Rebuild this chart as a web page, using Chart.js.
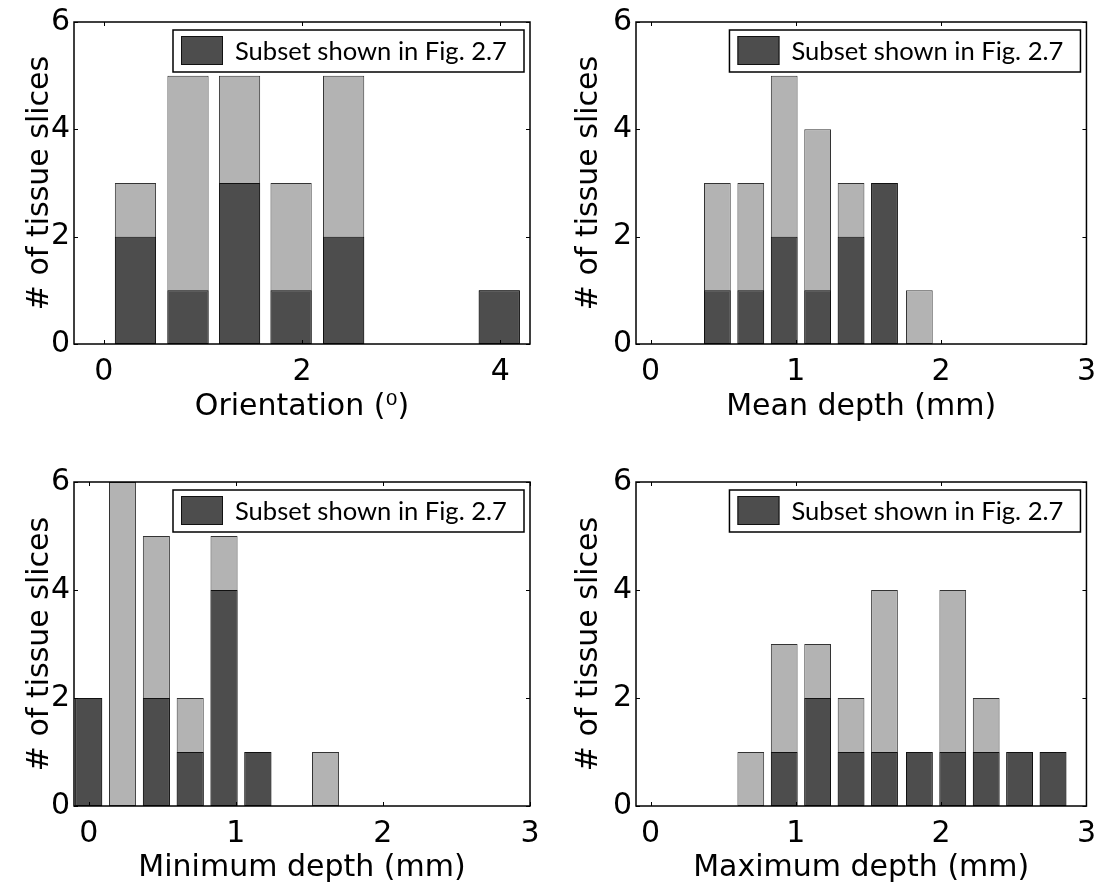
<!DOCTYPE html>
<html>
<head>
<meta charset="utf-8">
<script src="https://cdn.jsdelivr.net/npm/chart.js@4.4.1/dist/chart.umd.min.js"></script>
<style>
  html, body { margin: 0; padding: 0; background: #fff; }
  #page { position: relative; width: 1106px; height: 891px; overflow: hidden; background: #fff; }
  #page canvas { position: absolute; }
</style>
</head>
<body>
<div id="page">
  <canvas id="orientationChart" width="553" height="445" style="left:0px;top:0px"></canvas>
  <canvas id="meanDepthChart" width="553" height="445" style="left:553px;top:0px"></canvas>
  <canvas id="minDepthChart" width="553" height="446" style="left:0px;top:445px"></canvas>
  <canvas id="maxDepthChart" width="553" height="446" style="left:553px;top:445px"></canvas>
</div>
<script>
// ===================================
// histogram values
// ===================================
const orientationBins = [0.32, 0.85, 1.37, 1.89, 2.42, 2.94, 3.46, 3.99];
const orientationAll = [3, 5, 5, 3, 5, 0, 0, 1];
const orientationSubset = [2, 1, 3, 1, 2, 0, 0, 1];

const depthBins = [0, 0.23, 0.46, 0.69, 0.92, 1.15, 1.38, 1.61, 1.85, 2.08, 2.31, 2.54, 2.77];
const meanDepthAll = [0, 0, 3, 3, 5, 4, 3, 3, 1, 0, 0, 0, 0];
const meanDepthSubset = [0, 0, 1, 1, 2, 1, 2, 3, 0, 0, 0, 0, 0];
const minDepthAll = [2, 6, 5, 2, 5, 1, 0, 1, 0, 0, 0, 0, 0];
const minDepthSubset = [2, 0, 2, 1, 4, 1, 0, 0, 0, 0, 0, 0, 0];
const maxDepthAll = [0, 0, 0, 1, 3, 3, 2, 4, 1, 4, 2, 1, 1];
const maxDepthSubset = [0, 0, 0, 0, 1, 2, 1, 1, 1, 1, 1, 1, 1];

const orientationTicks = [0, 2, 4];
const depthTicks = [0, 1, 2, 3];
const countTicks = [0, 2, 4, 6];

const subsetLabel = 'Subset shown in Fig. 2.7';
const yTitle = '# of tissue slices';

const darkGray = '#4d4d4d';
const lightGray = '#b3b3b3';
const axisFont = 'DejaVu Sans';

// Draws the MATLAB-like box, inward tick marks and the legend inside the axes
const matlabFrame = {
    id: 'matlabFrame',
    afterDatasetsDraw(chart) {
        const { ctx, chartArea: a, scales } = chart;
        const x = scales.x, y = scales.y;
        ctx.save();

        ctx.strokeStyle = '#000';
        ctx.lineWidth = 1;
        ctx.beginPath();
        x.ticks.forEach(t => {
            const px = Math.round(x.getPixelForValue(t.value)) + 0.5;
            ctx.moveTo(px, a.bottom); ctx.lineTo(px, a.bottom - 4);
            ctx.moveTo(px, a.top); ctx.lineTo(px, a.top + 4);
        });
        y.ticks.forEach(t => {
            const py = Math.round(y.getPixelForValue(t.value)) + 0.5;
            ctx.moveTo(a.left, py); ctx.lineTo(a.left + 4, py);
            ctx.moveTo(a.right, py); ctx.lineTo(a.right - 4, py);
        });
        ctx.stroke();

        ctx.lineWidth = 1.5;
        ctx.strokeRect(a.left, a.top, a.right - a.left, a.bottom - a.top);

        // legend box
        const ds = chart.data.datasets[0];
        const bw = 351, bh = 42;
        const bx = a.right - 6 - bw, by = a.top + 8;
        ctx.fillStyle = '#fff';
        ctx.fillRect(bx, by, bw, bh);
        ctx.lineWidth = 1.5;
        ctx.strokeRect(bx, by, bw, bh);

        ctx.fillStyle = ds.backgroundColor;
        ctx.fillRect(bx + 8, by + 6, 42, 29);
        ctx.lineWidth = 1;
        ctx.strokeStyle = '#111';
        ctx.strokeRect(bx + 8.5, by + 6.5, 41, 28);

        ctx.font = '28px Lato';
        const w28 = ctx.measureText(ds.label).width;
        const size = 28 * 272 / w28;
        ctx.font = size.toFixed(2) + 'px Lato';
        ctx.fillStyle = '#000';
        ctx.textBaseline = 'alphabetic';
        ctx.textAlign = 'left';
        ctx.fillText(ds.label, bx + 62, by + 30);

        ctx.restore();
    }
};

function toPoints(bins, values) {
    return bins.map((b, i) => ({ x: b, y: values[i] }));
}

function buildHistogram(canvasId, cfg) {
    const canvas = document.getElementById(canvasId);
    const W = canvas.width, H = canvas.height;
    const area = cfg.area;

    return new Chart(canvas.getContext('2d'), {
        type: 'bar',
        data: {
            datasets: [
                {
                    label: subsetLabel,
                    data: toPoints(cfg.bins, cfg.subset),
                    backgroundColor: darkGray,
                    borderColor: '#111',
                    borderWidth: 1,
                    borderSkipped: false,
                    order: 0
                },
                {
                    label: 'All',
                    data: toPoints(cfg.bins, cfg.all),
                    backgroundColor: lightGray,
                    borderColor: '#333',
                    borderWidth: 1,
                    borderSkipped: false,
                    order: 1
                }
            ]
        },
        options: {
            responsive: false,
            animation: false,
            events: [],
            grouped: false,
            categoryPercentage: 0.8,
            barPercentage: 1,
            layout: { padding: { left: 0, top: area.top, right: W - area.right, bottom: 0 } },
            plugins: {
                legend: { display: false },
                tooltip: { enabled: false }
            },
            scales: {
                x: {
                    type: 'linear',
                    offset: false,
                    min: cfg.xMin,
                    max: cfg.xMax,
                    grid: { display: false, drawTicks: false, offset: false },
                    border: { display: false },
                    afterBuildTicks: s => { s.ticks = cfg.xTicks.map(v => ({ value: v })); },
                    afterFit: s => { s.height = H - area.bottom; },
                    ticks: {
                        font: { family: axisFont, size: 30 },
                        color: '#000',
                        padding: 10,
                        maxRotation: 0,
                        autoSkip: false
                    },
                    title: {
                        display: true,
                        text: cfg.xTitle,
                        font: { family: axisFont, size: 30 },
                        color: '#000',
                        padding: { top: 0, bottom: cfg.xTitlePad }
                    }
                },
                y: {
                    type: 'linear',
                    min: 0,
                    max: 6,
                    grid: { display: false, drawTicks: false },
                    border: { display: false },
                    afterBuildTicks: s => { s.ticks = countTicks.map(v => ({ value: v })); },
                    afterFit: s => { s.width = area.left; },
                    ticks: {
                        font: { family: axisFont, size: 30 },
                        color: '#000',
                        padding: 4
                    },
                    title: {
                        display: true,
                        text: yTitle,
                        font: { family: axisFont, size: 30 },
                        color: '#000',
                        padding: { top: cfg.yTitlePad, bottom: 0 }
                    }
                }
            }
        },
        plugins: [matlabFrame]
    });
}

buildHistogram('orientationChart', {
    bins: orientationBins, all: orientationAll, subset: orientationSubset,
    xMin: -0.3, xMax: 4.3, xTicks: orientationTicks,
    xTitle: 'Orientation (\u2070)',
    area: { left: 74, top: 19, right: 530, bottom: 344 },
    xTitlePad: 20, yTitlePad: 22
});

buildHistogram('meanDepthChart', {
    bins: depthBins, all: meanDepthAll, subset: meanDepthSubset,
    xMin: -0.1, xMax: 3, xTicks: depthTicks,
    xTitle: 'Mean depth (mm)',
    area: { left: 83, top: 19, right: 534, bottom: 344 },
    xTitlePad: 20, yTitlePad: 18
});

buildHistogram('minDepthChart', {
    bins: depthBins, all: minDepthAll, subset: minDepthSubset,
    xMin: -0.1, xMax: 3, xTicks: depthTicks,
    xTitle: 'Minimum depth (mm)',
    area: { left: 74, top: 37, right: 530, bottom: 361 },
    xTitlePad: 5, yTitlePad: 22
});

buildHistogram('maxDepthChart', {
    bins: depthBins, all: maxDepthAll, subset: maxDepthSubset,
    xMin: -0.1, xMax: 3, xTicks: depthTicks,
    xTitle: 'Maximum depth (mm)',
    area: { left: 83, top: 37, right: 534, bottom: 361 },
    xTitlePad: 5, yTitlePad: 18
});
</script>
</body>
</html>
